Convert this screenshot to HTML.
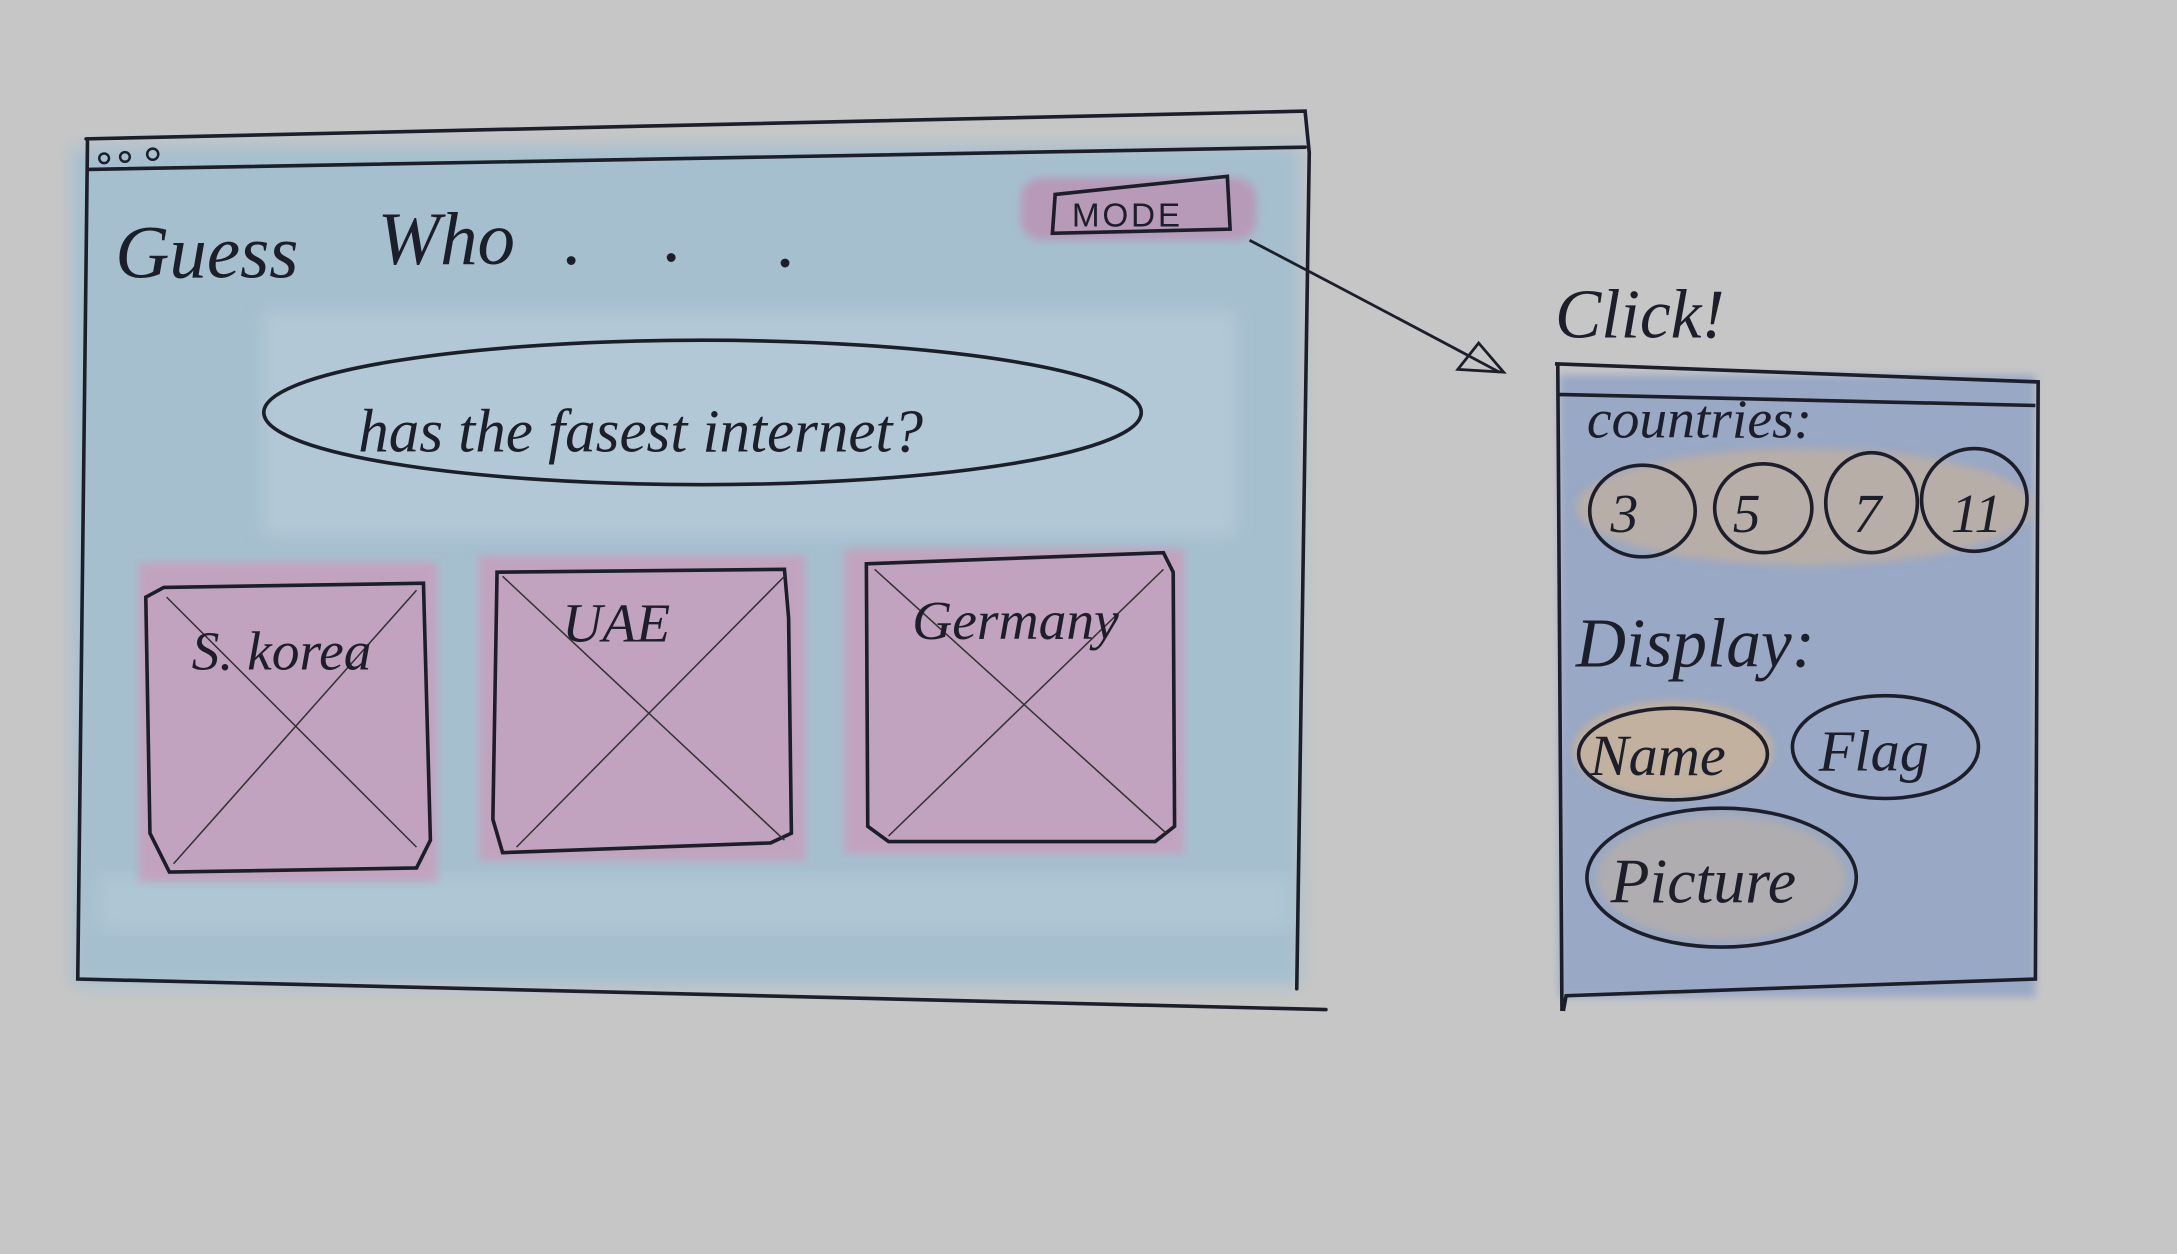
<!DOCTYPE html>
<html><head><meta charset="utf-8"><style>
html,body{margin:0;padding:0;background:#c6c6c6;}
svg{display:block}
text{font-family:"Liberation Serif","DejaVu Serif",serif;font-style:italic;fill:#1c1f2a}
</style></head><body>
<svg width="2177" height="1254" viewBox="0 0 1568 903" preserveAspectRatio="none" xmlns="http://www.w3.org/2000/svg">
<defs>
<filter id="b" x="-10%" y="-10%" width="120%" height="120%"><feGaussianBlur stdDeviation="6"/></filter>
<filter id="b2"><feGaussianBlur stdDeviation="3"/></filter>
</defs>
<rect width="1568" height="903" fill="#c6c6c6"/>
<!-- main blue wash -->
<rect x="52" y="105" width="885" height="605" fill="#a5bfcf" filter="url(#b)"/>
<rect x="190" y="225" width="700" height="160" fill="#b3c8d6" filter="url(#b)"/>
<rect x="70" y="630" width="860" height="40" fill="#b4c9d6" filter="url(#b)" opacity="0.7"/>
<!-- mode pink -->
<rect x="735" y="128" width="170" height="45" rx="15" fill="#b79ab8" filter="url(#b2)"/>
<!-- cards pink -->
<rect x="100" y="405" width="215" height="230" fill="#c2a3bf" filter="url(#b2)"/>
<rect x="345" y="400" width="235" height="220" fill="#c2a3bf" filter="url(#b2)"/>
<rect x="608" y="395" width="245" height="220" fill="#c2a3bf" filter="url(#b2)"/>
<g fill="none" stroke="#1c1f2a" stroke-width="2.6" stroke-linecap="round">
<path d="M62 100 L940 80 L943 110 L934 712 M63 102 L56 705 L955 727 M64 122 L940 106"/>
<circle cx="75" cy="114" r="3.5" stroke-width="1.8"/><circle cx="90" cy="113" r="3.5" stroke-width="1.8"/><circle cx="110" cy="111" r="4" stroke-width="1.8"/>
<path d="M760 140 L884 127 L886 165 L758 168 Z"/>
<ellipse cx="506" cy="297" rx="316" ry="52"/>
<path d="M118 423 L305 420 L310 605 L300 625 L122 628 L108 600 L105 430 Z"/>
<path d="M358 412 L565 410 L568 445 L570 600 L555 607 L362 614 L355 590 Z"/>
<path d="M624 406 L838 398 L845 412 L846 595 L832 606 L640 606 L625 595 Z"/>
</g>
<g stroke="#333" stroke-width="1.1" fill="none">
<path d="M120 430 L300 610 M300 425 L125 622"/>
<path d="M362 415 L565 605 M565 415 L372 610"/>
<path d="M630 410 L840 600 M838 410 L640 602"/>
</g>
<text x="83" y="200" font-size="54">Guess</text>
<text x="272" y="190" font-size="54">Who</text>
<text x="406" y="190" font-size="54">.</text>
<text x="478" y="188" font-size="54">.</text>
<text x="560" y="192" font-size="54">.</text>
<text x="772" y="163" font-size="24" style="font-style:normal;font-family:'Liberation Sans',sans-serif" letter-spacing="2">MODE</text>
<text x="258" y="325" font-size="44">has the fasest internet?</text>
<text x="138" y="482" font-size="40">S. korea</text>
<text x="405" y="462" font-size="40">UAE</text>
<text x="657" y="460" font-size="40">Germany</text>
<g fill="none" stroke="#1c1f2a" stroke-width="2">
<path d="M900 173 Q990 220 1080 268"/>
<path d="M1065 247 L1083 268 L1050 266 Z"/>
</g>
<text x="1120" y="243" font-size="50">Click!</text>
<rect x="1123" y="270" width="343" height="448" fill="#98a8c5" filter="url(#b2)"/>
<g fill="#cdb395" filter="url(#b2)">
<ellipse cx="1300" cy="365" rx="165" ry="42" opacity="0.6"/>
<ellipse cx="1205" cy="540" rx="72" ry="35" opacity="0.8"/>
<ellipse cx="1240" cy="632" rx="90" ry="45" opacity="0.45"/>
</g>
<g fill="none" stroke="#1c1f2a" stroke-width="2.6">
<path d="M1120 262 L1468 275 L1466 705 L1128 717 L1126 728 M1122 262 L1125 728 M1122 284 L1466 292"/>
<ellipse cx="1183" cy="368" rx="38" ry="33"/>
<ellipse cx="1270" cy="366" rx="35" ry="32"/>
<ellipse cx="1348" cy="362" rx="33" ry="36"/>
<ellipse cx="1422" cy="360" rx="38" ry="37"/>
<ellipse cx="1205" cy="543" rx="68" ry="33"/>
<ellipse cx="1358" cy="538" rx="67" ry="37"/>
<ellipse cx="1240" cy="632" rx="97" ry="50"/>
</g>
<text x="1143" y="315" font-size="40">countries:</text>
<text x="1160" y="383" font-size="40">3</text>
<text x="1248" y="383" font-size="40">5</text>
<text x="1335" y="383" font-size="40">7</text>
<text x="1405" y="383" font-size="40">11</text>
<text x="1135" y="480" font-size="50">Display:</text>
<text x="1145" y="558" font-size="42">Name</text>
<text x="1310" y="555" font-size="42">Flag</text>
<text x="1160" y="650" font-size="46">Picture</text>
</svg>
</body></html>
